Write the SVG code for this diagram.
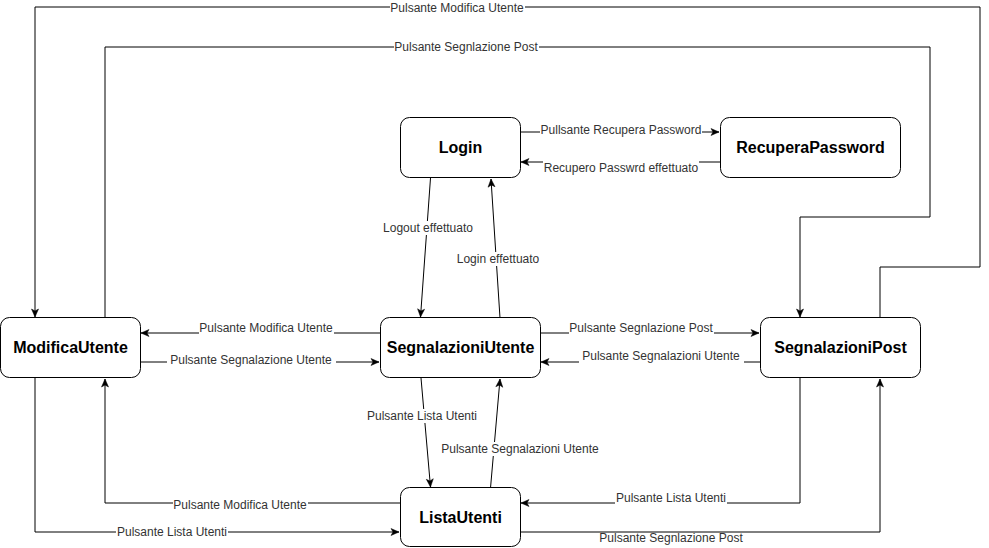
<svg xmlns="http://www.w3.org/2000/svg" width="989" height="548" viewBox="0 0 989 548">
<style>
.node rect{fill:#fff;stroke:#000;stroke-width:1}
.node text{font-family:"Liberation Sans",Arial,Helvetica,sans-serif;font-size:16px;font-weight:bold;fill:#000;text-anchor:middle}
.edge path{fill:none;stroke:#000;stroke-width:1;marker-end:url(#arr)}
.lbl rect{fill:#fff;stroke:none}
.lbl text{font-family:"Liberation Sans",Arial,Helvetica,sans-serif;font-size:12px;fill:#333;text-anchor:middle}
</style>
<defs>
<marker id="arr" markerUnits="userSpaceOnUse" markerWidth="10" markerHeight="9" refX="9" refY="4.5" orient="auto">
<path d="M1,1 L9,4.5 L1,8 L3,4.5 z" fill="#000" stroke="#000" stroke-width="0.5"/>
</marker>
</defs>
<rect width="989" height="548" fill="#fff"/>
<g id="connectors">
<g class="edge">
<path d="M520,132 L719,132"/>
<path d="M720,162 L521,162"/>
<path d="M430.5,178 L420.5,317"/>
<path d="M500,318 L491,179"/>
<path d="M380,333 L141,333"/>
<path d="M140,362 L379,362"/>
<path d="M540,333 L759,333"/>
<path d="M760,362 L541,362"/>
<path d="M421,378 L430.5,487"/>
<path d="M490.5,488 L500,379"/>
<path d="M400,503 L105,503 L105,379"/>
<path d="M35,378 L35,532 L399,532"/>
<path d="M800,378 L800,503 L521,503"/>
<path d="M520,532 L880,532 L880,379"/>
<path d="M880,318 L880,267 L980,267 L980,7 L35,7 L35,317"/>
<path d="M105,318 L105,47 L930,47 L930,217 L800,217 L800,317"/>
</g>
<g class="lbl">
<rect x="540" y="125" width="162" height="14"/><text x="621" y="134">Pullsante Recupera Password</text>
<rect x="543" y="161" width="156" height="14"/><text x="621" y="172">Recupero Passwrd effettuato</text>
<rect x="382" y="221" width="92" height="14"/><text x="428" y="232">Logout effettuato</text>
<rect x="456" y="252" width="85" height="14"/><text x="498" y="263">Login effettuato</text>
<rect x="199" y="321" width="135" height="14"/><text x="266" y="332">Pulsante Modifica Utente</text>
<rect x="167" y="353" width="169" height="14"/><text x="251" y="364">Pulsante Segnalazione Utente</text>
<rect x="569" y="321" width="145" height="14"/><text x="641" y="332">Pulsante Segnlazione Post</text>
<rect x="579" y="349" width="165" height="14"/><text x="661" y="360">Pulsante Segnalazioni Utente</text>
<rect x="366" y="409" width="112" height="14"/><text x="422" y="420">Pulsante Lista Utenti</text>
<rect x="438" y="442" width="165" height="14"/><text x="520" y="453">Pulsante Segnalazioni Utente</text>
<rect x="173" y="498" width="135" height="14"/><text x="240" y="509">Pulsante Modifica Utente</text>
<rect x="116" y="525" width="112" height="14"/><text x="172" y="536">Pulsante Lista Utenti</text>
<rect x="615" y="491" width="112" height="14"/><text x="671" y="502">Pulsante Lista Utenti</text>
<text x="671" y="542">Pulsante Segnlazione Post</text>
<rect x="390" y="1" width="135" height="14"/><text x="457" y="12">Pulsante Modifica Utente</text>
<rect x="394" y="40" width="145" height="14"/><text x="466" y="51">Pulsante Segnlazione Post</text>
</g>
</g>
<g id="login" class="node"><rect x="400.5" y="117.5" width="120" height="60" rx="9"/><text x="460.5" y="153">Login</text></g>
<g id="recuperaPassword" class="node"><rect x="720.5" y="117.5" width="180" height="60" rx="9"/><text x="810.5" y="153">RecuperaPassword</text></g>
<g id="modificaUtente" class="node"><rect x="0.5" y="317.5" width="140" height="60" rx="9"/><text x="70.5" y="353">ModificaUtente</text></g>
<g id="segnalazioniUtente" class="node"><rect x="380.5" y="317.5" width="160" height="60" rx="9"/><text x="460.5" y="353">SegnalazioniUtente</text></g>
<g id="segnalazioniPost" class="node"><rect x="760.5" y="317.5" width="160" height="60" rx="9"/><text x="840.5" y="353">SegnalazioniPost</text></g>
<g id="listaUtenti" class="node"><rect x="400.5" y="487.5" width="120" height="59" rx="9"/><text x="460.5" y="523">ListaUtenti</text></g>
</svg>
